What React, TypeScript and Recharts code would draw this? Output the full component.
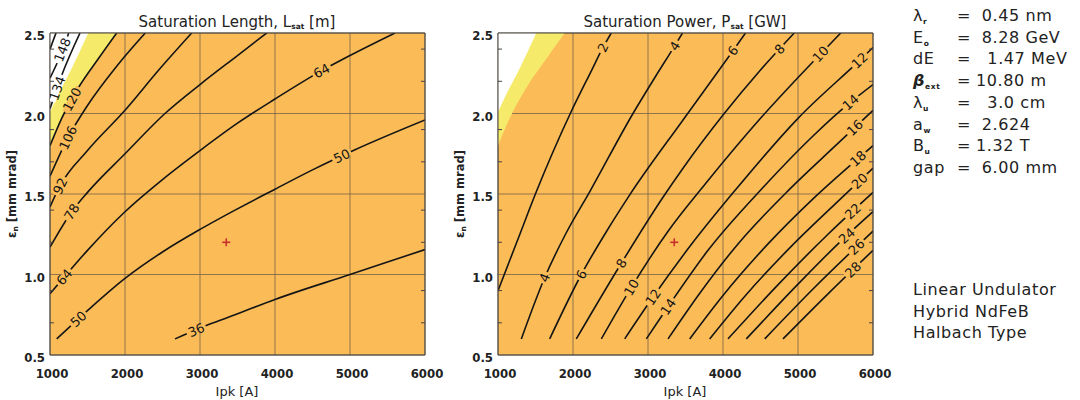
import React from 'react';
import { ComposedChart, Line, Area, Scatter, XAxis, YAxis, CartesianGrid } from 'recharts';

type Pt = [number, number];

// axis ticks
const ipkTicks = [1000, 2000, 3000, 4000, 5000, 6000];
const ipkMinor = [
  1100, 1200, 1300, 1400, 1500, 1600, 1700, 1800, 1900,
  2100, 2200, 2300, 2400, 2500, 2600, 2700, 2800, 2900,
  3100, 3200, 3300, 3400, 3500, 3600, 3700, 3800, 3900,
  4100, 4200, 4300, 4400, 4500, 4600, 4700, 4800, 4900,
  5100, 5200, 5300, 5400, 5500, 5600, 5700, 5800, 5900,
];
const epsTicks = [0.5, 1.0, 1.5, 2.0, 2.5];
const epsMinor = [0.6, 0.7, 0.8, 0.9, 1.1, 1.2, 1.3, 1.4, 1.6, 1.7, 1.8, 1.9, 2.1, 2.2, 2.3, 2.4];

// filled regions (upper-left corner), same in both panels
const yellowEdge: Pt[] = [[1000, 1.8], [1156, 1.97], [1378, 2.16], [1644, 2.34], [1889, 2.5]];
const whiteEdge: Pt[] = [[1000, 2.01], [1111, 2.12], [1289, 2.28], [1511, 2.5]];

// design point
const designPoint: Pt = [3350, 1.2];

// saturation length contours [m]
const lsat36: Pt[] = [[2667, 0.6], [3178, 0.7], [3467, 0.75], [4000, 0.845], [5000, 1.0], [6000, 1.155]];
const lsat50: Pt[] = [[1089, 0.6], [1533, 0.79], [2000, 0.976], [2500, 1.14], [3000, 1.28], [3467, 1.4], [4000, 1.53], [4500, 1.65], [5067, 1.775], [6000, 1.96]];
const lsat64: Pt[] = [[1000, 0.88], [1200, 0.99], [1500, 1.15], [2000, 1.39], [2500, 1.59], [3000, 1.77], [3500, 1.94], [4000, 2.09], [4600, 2.26], [5000, 2.36], [5600, 2.5]];
const lsat78: Pt[] = [[1000, 1.17], [1290, 1.39], [1500, 1.51], [2000, 1.75], [2533, 2.0], [3000, 2.18], [3500, 2.36], [3890, 2.5]];
const lsat92: Pt[] = [[1000, 1.42], [1133, 1.55], [1500, 1.77], [2000, 2.02], [2450, 2.27], [2890, 2.5]];
const lsat106: Pt[] = [[1000, 1.61], [1240, 1.85], [1500, 2.05], [1900, 2.3], [2270, 2.5]];
const lsat120: Pt[] = yellowEdge;
const lsat134: Pt[] = [[1000, 2.03], [1150, 2.23], [1400, 2.5]];
const lsat148: Pt[] = [[1000, 2.22], [1120, 2.34], [1250, 2.5]];
const lsat162: Pt[] = [[1000, 2.4], [1080, 2.5]];

const lsatLines: [number, Pt[]][] = [
  [36, lsat36], [50, lsat50], [64, lsat64], [78, lsat78], [92, lsat92],
  [106, lsat106], [120, lsat120], [134, lsat134], [148, lsat148], [162, lsat162],
];
// [level, Ipk where the label sits]
const lsatLabels: Pt[] = [
  [36, 2950], [50, 1378], [50, 4889], [64, 1190], [64, 4622], [78, 1289],
  [92, 1133], [106, 1240], [120, 1293], [134, 1095], [148, 1165],
];

// saturation power contours [GW]
const psat2: Pt[] = [[1000, 0.9], [1250, 1.2], [1516, 1.52], [1964, 2.0], [2250, 2.27], [2400, 2.41], [2510, 2.5]];
const psat4: Pt[] = [[1311, 0.6], [1622, 0.98], [1900, 1.25], [2230, 1.52], [2800, 2.0], [3100, 2.23], [3356, 2.42], [3460, 2.5]];
const psat6: Pt[] = [[1689, 0.6], [2111, 1.0], [2450, 1.27], [2750, 1.49], [3467, 1.96], [4133, 2.39], [4300, 2.5]];
const psat8: Pt[] = [[2044, 0.6], [2644, 1.07], [3200, 1.48], [3467, 1.66], [4000, 1.99], [4500, 2.27], [4950, 2.5]];
const psat10: Pt[] = [[2378, 0.6], [2778, 0.92], [3270, 1.27], [3760, 1.56], [4500, 1.97], [5300, 2.37], [5570, 2.5]];
const psat12: Pt[] = [[2689, 0.6], [3067, 0.86], [3600, 1.2], [4156, 1.52], [5000, 1.97], [5822, 2.33], [6000, 2.41]];
const psat14: Pt[] = [[2978, 0.6], [3267, 0.8], [3800, 1.15], [4533, 1.54], [5200, 1.86], [5700, 2.07], [6000, 2.18]];
const psat16: Pt[] = [[3267, 0.6], [3700, 0.89], [4200, 1.19], [4889, 1.53], [5500, 1.8], [6000, 2.02]];
const psat18: Pt[] = [[3556, 0.6], [4000, 0.87], [4600, 1.19], [5200, 1.47], [5800, 1.72], [6000, 1.8]];
const psat20: Pt[] = [[3822, 0.6], [4300, 0.87], [4900, 1.17], [5500, 1.44], [6000, 1.66]];
const psat22: Pt[] = [[4067, 0.6], [4700, 0.92], [5400, 1.25], [6000, 1.51]];
const psat24: Pt[] = [[4311, 0.6], [5000, 0.94], [5600, 1.22], [6000, 1.39]];
const psat26: Pt[] = [[4556, 0.6], [5200, 0.91], [6000, 1.27]];
const psat28: Pt[] = [[4800, 0.6], [5400, 0.88], [6000, 1.15]];

const psatLines: [number, Pt[]][] = [
  [2, psat2], [4, psat4], [6, psat6], [8, psat8], [10, psat10], [12, psat12], [14, psat14],
  [16, psat16], [18, psat18], [20, psat20], [22, psat22], [24, psat24], [26, psat26], [28, psat28],
];
const psatLabels: Pt[] = [
  [2, 2400], [4, 1622], [4, 3356], [6, 2111], [6, 4133], [8, 2644], [8, 4756],
  [10, 2778], [10, 5300], [12, 3067], [12, 5822], [14, 3267], [14, 5700], [16, 5756],
  [18, 5800], [20, 5820], [22, 5730], [24, 5650], [26, 5780], [28, 5733],
];

// undulator parameters
const paramSymbols: [string, string][] = [
  ['λ', 'r'], ['E', 'o'], ['dE', ''], ['β', 'ext'], ['λ', 'u'], ['a', 'w'], ['B', 'u'], ['gap', ''],
];
const paramValues = [' 0.45 nm', ' 8.28 GeV', '  1.47 MeV', '10.80 m', '  3.0 cm', ' 2.624', '1.32 T', ' 6.00 mm'];
const undulatorNotes = ['Linear Undulator', 'Hybrid NdFeB', 'Halbach Type'];

const FONT = "'DejaVu Sans', 'Liberation Sans', sans-serif";
const NARROW = "'Liberation Sans Narrow', 'DejaVu Sans Condensed', 'Liberation Sans', sans-serif";
const ORANGE = '#FBBC58';
const YELLOW = '#F6EA6A';
const FRAME = '#444';
const GRID = '#7d684a';
const INK = '#151515';

const CHART_W = 460;
const CHART_H = 400;
const MARGIN = { top: 33, right: 35, bottom: 15, left: 10 };
const Y_W = 40;
const X_H = 30;
const PX_PER_A = (CHART_W - MARGIN.left - MARGIN.right - Y_W) / 5000;
const PX_PER_EPS = (CHART_H - MARGIN.top - MARGIN.bottom - X_H) / 2;

function along(pts: Pt[], x: number) {
  for (let i = 1; i < pts.length; i++) {
    if (x <= pts[i][0]) {
      const [x0, y0] = pts[i - 1];
      const [x1, y1] = pts[i];
      const t = (x - x0) / (x1 - x0);
      return { y: y0 + t * (y1 - y0), slope: (y1 - y0) / (x1 - x0) };
    }
  }
  return null;
}

function bgAt(x: number, y: number) {
  const w = along(whiteEdge, x);
  if (w && y > w.y) return '#ffffff';
  const yl = along(yellowEdge, x);
  if (yl && y > yl.y + 0.01) return YELLOW;
  return ORANGE;
}

const blank = () => <g />;

const XTick = (props: any) => (
  <text x={props.x + 2} y={props.y + 23} textAnchor="middle" fontFamily={NARROW} fontSize={13} fontWeight={600} fill="#222">
    {props.payload.value}
  </text>
);

const YTick = (props: any) => (
  <text x={props.x - 5} y={props.y + 7} textAnchor="end" fontFamily={NARROW} fontSize={13} fontWeight={600} fill="#222">
    {Number(props.payload.value).toFixed(1)}
  </text>
);

const ContourLabel = (props: any) => {
  const { cx, cy, payload } = props;
  const w = payload.text.length * 8.2 + 4;
  return (
    <g transform={`rotate(${payload.angle} ${cx} ${cy})`}>
      <rect x={cx - w / 2} y={cy - 3} width={w} height={6} fill={payload.bg} />
      <text x={cx} y={cy + 4.7} textAnchor="middle" fontFamily={FONT} fontSize={13} fill={INK}>
        {payload.text}
      </text>
    </g>
  );
};

const Plus = (props: any) => {
  const { cx, cy } = props;
  return (
    <g stroke="#C8302C" strokeWidth={1.6}>
      <line x1={cx - 4} y1={cy} x2={cx + 4} y2={cy} />
      <line x1={cx} y1={cy - 4} x2={cx} y2={cy + 4} />
    </g>
  );
};

function Panel({ lines, labels }: { lines: [number, Pt[]][]; labels: Pt[] }) {
  const labelData = labels.map(([v, x]) => {
    const pts = lines.find(([lv]) => lv === v)![1];
    const a = along(pts, x)!;
    return {
      x,
      y: a.y,
      text: String(v),
      angle: (-Math.atan((a.slope * PX_PER_EPS) / PX_PER_A) * 180) / Math.PI,
      bg: bgAt(x, a.y),
    };
  });

  return (
    <ComposedChart width={CHART_W} height={CHART_H} margin={MARGIN}>
      <CartesianGrid fill={ORANGE} fillOpacity={1} stroke={GRID} strokeOpacity={0.85} />
      <XAxis dataKey="x" type="number" domain={[1000, 6000]} allowDataOverflow ticks={ipkTicks}
        tickLine={false} tickSize={0} tickMargin={0} axisLine={{ stroke: FRAME }} tick={<XTick />} height={X_H} />
      <XAxis xAxisId="top" orientation="top" mirror type="number" domain={[1000, 6000]} allowDataOverflow
        ticks={ipkMinor} tickSize={4} tick={blank} tickLine={{ stroke: FRAME }} axisLine={{ stroke: FRAME }} />
      <XAxis xAxisId="bottomMinor" orientation="bottom" mirror type="number" domain={[1000, 6000]} allowDataOverflow
        ticks={ipkMinor} tickSize={4} tick={blank} tickLine={{ stroke: FRAME }} axisLine={false} />
      <YAxis dataKey="y" type="number" domain={[0.5, 2.5]} allowDataOverflow ticks={epsTicks}
        tickLine={false} tickSize={0} tickMargin={0} axisLine={{ stroke: FRAME }} tick={<YTick />} width={Y_W} />
      <YAxis yAxisId="right" orientation="right" mirror type="number" domain={[0.5, 2.5]} allowDataOverflow
        ticks={epsMinor} tickSize={4} tick={blank} tickLine={{ stroke: FRAME }} axisLine={{ stroke: FRAME }} />
      <YAxis yAxisId="leftMinor" orientation="left" mirror type="number" domain={[0.5, 2.5]} allowDataOverflow
        ticks={epsMinor} tickSize={4} tick={blank} tickLine={{ stroke: FRAME }} axisLine={false} />

      <Area data={yellowEdge.map(([x, y]) => ({ x, y: [y, 2.5] }))} dataKey="y" type="monotone"
        fill={YELLOW} fillOpacity={1} stroke="none" isAnimationActive={false} />
      <Area data={whiteEdge.map(([x, y]) => ({ x, y: [y, 2.5] }))} dataKey="y" type="monotone"
        fill="#ffffff" fillOpacity={1} stroke="none" isAnimationActive={false} />

      {lines.map(([v, pts]) => (
        <Line key={v} data={pts.map(([x, y]) => ({ x, y }))} dataKey="y" type="monotone" stroke={INK}
          strokeWidth={1.6} dot={false} activeDot={false} isAnimationActive={false} />
      ))}

      <Scatter data={labelData} dataKey="y" shape={ContourLabel} isAnimationActive={false} />
      <Scatter data={[{ x: designPoint[0], y: designPoint[1] }]} dataKey="y" shape={Plus} isAnimationActive={false} />
    </ComposedChart>
  );
}

export default function App() {
  const rowBase = (i: number) => 21 + i * 21.7;
  return (
    <div style={{ position: 'absolute', left: 0, top: 0, width: 1080, height: 400, background: '#fff' }}>
      <div style={{ position: 'absolute', left: 0, top: 0 }}>
        <Panel lines={lsatLines} labels={lsatLabels} />
      </div>
      <div style={{ position: 'absolute', left: 448, top: 0 }}>
        <Panel lines={psatLines} labels={psatLabels} />
      </div>
      <svg width={1080} height={400} style={{ position: 'absolute', left: 0, top: 0, pointerEvents: 'none' }}>
        <g fontFamily={FONT} fill="#222">
          <text x={237} y={27} textAnchor="middle" fontSize={15}>
            Saturation Length, L<tspan fontSize={7.5} fontWeight={700} dy={2}>sat</tspan>
            <tspan dy={-2}> [m]</tspan>
          </text>
          <text x={685} y={27} textAnchor="middle" fontSize={15}>
            Saturation Power, P<tspan fontSize={7.5} fontWeight={700} dy={2}>sat</tspan>
            <tspan dy={-2}> [GW]</tspan>
          </text>
          <text x={237} y={396} textAnchor="middle" fontSize={13}>Ipk [A]</text>
          <text x={685} y={396} textAnchor="middle" fontSize={13}>Ipk [A]</text>
          {[16, 464].map((x) => (
            <text key={x} transform={`rotate(-90 ${x} 194)`} x={x} y={194} textAnchor="middle" fontSize={11.5} fontWeight={700}>
              ε<tspan fontSize={7.5} dy={2}>n</tspan>
              <tspan dy={-2}> [mm mrad]</tspan>
            </text>
          ))}
          {paramSymbols.map(([s, sub], i) => (
            <g key={i} fontSize={16} letterSpacing={0.6}>
              <text x={913} y={rowBase(i)} fontWeight={s === 'β' ? 700 : 400} fontStyle={s === 'β' ? 'italic' : 'normal'}>
                {s}
                {sub && (
                  <tspan fontSize={7.5} fontWeight={700} fontStyle="normal" dy={3}>{sub}</tspan>
                )}
              </text>
              <text x={957} y={rowBase(i)}>=</text>
              <text x={976} y={rowBase(i)} style={{ whiteSpace: 'pre' }}>{paramValues[i]}</text>
            </g>
          ))}
          {undulatorNotes.map((t, i) => (
            <text key={t} x={913} y={295 + i * 21.5} fontSize={16} letterSpacing={0.6}>{t}</text>
          ))}
        </g>
      </svg>
    </div>
  );
}
